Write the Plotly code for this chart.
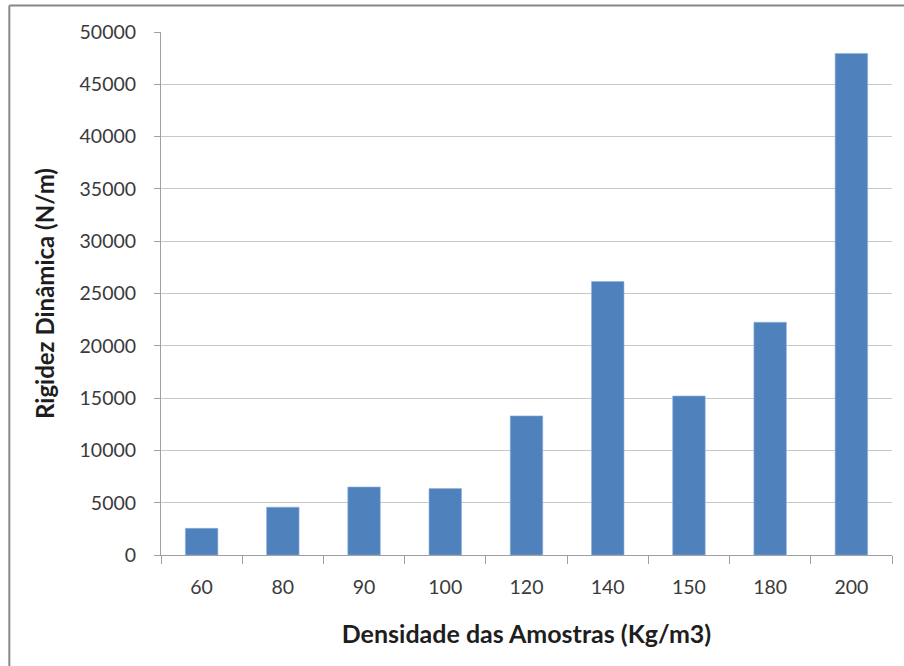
import plotly.graph_objects as go

categories = ["60", "80", "90", "100", "120", "140", "150", "180", "200"]
values = [2550, 4570, 6500, 6350, 13300, 26150, 15200, 22250, 47950]
y_ticks = [0, 5000, 10000, 15000, 20000, 25000, 30000, 35000, 40000, 45000, 50000]

FONT = "Lato, 'Open Sans', sans-serif"

fig = go.Figure(go.Bar(
    x=categories, y=values,
    marker=dict(color="#4f81bd", line=dict(color="#8fb3dc", width=0.6)),
    width=0.4,
))

fig.update_layout(
    width=904, height=666,
    margin=dict(l=161, r=12, t=32, b=111),
    paper_bgcolor="white", plot_bgcolor="white",
    showlegend=False,
    font=dict(family=FONT, size=19, color="#3a3a3a"),
    xaxis=dict(
        type="category",
        showline=True, linecolor="#a0a0a0", linewidth=1,
        ticks="outside", tickson="boundaries", ticklen=8, tickcolor="#a0a0a0",
        tickfont=dict(family=FONT, size=19.5, color="#3a3a3a"),
        ticklabelstandoff=15,
        title=dict(text="<b>Densidade das Amostras (Kg/m3)</b>",
                   font=dict(family=FONT, size=25, color="#1e1e1e"), standoff=28),
        showgrid=False,
    ),
    yaxis=dict(
        range=[0, 50000],
        tickvals=y_ticks, ticktext=[str(v) for v in y_ticks],
        showline=True, linecolor="#a0a0a0", linewidth=1,
        ticks="outside", ticklen=6, tickcolor="#a0a0a0",
        ticklabelstandoff=14,
        showgrid=True, gridcolor="#c8c8c8", gridwidth=1.3,
        zeroline=False,
        tickfont=dict(family=FONT, size=19.5, color="#3a3a3a"),
        title=dict(text="<b>Rigidez Dinâmica (N/m)</b>",
                   font=dict(family=FONT, size=24, color="#1e1e1e"), standoff=18),
    ),
    shapes=[
        dict(type="line", xref="paper", yref="paper", x0=-0.2075, x1=1.02, y0=1.0507, y1=1.0507,
             line=dict(color="#888888", width=2)),
        dict(type="line", xref="paper", yref="paper", x0=-0.2075, x1=-0.2075, y0=-0.25, y1=1.0507,
             line=dict(color="#888888", width=2)),
    ],
)

fig.write_html("out.html")
